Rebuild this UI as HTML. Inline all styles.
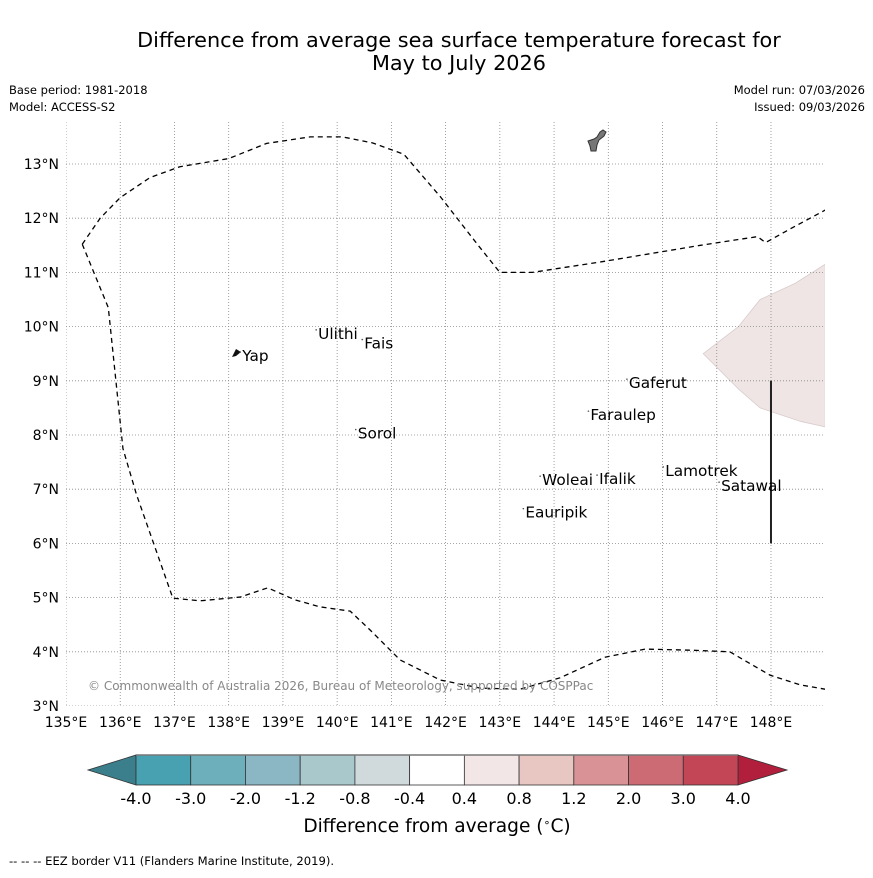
<!DOCTYPE html>
<html><head><meta charset="utf-8">
<style>
body{margin:0;background:#fff;font-family:"Liberation Sans","DejaVu Sans",sans-serif;}
svg text{font-family:"DejaVu Sans","Liberation Sans",sans-serif;}
</style></head>
<body>
<svg id="chart" width="873" height="873" viewBox="0 0 873 873">
<rect width="873" height="873" fill="#fff"/>
<text x="459" y="47" font-size="20.8" text-anchor="middle">Difference from average sea surface temperature forecast for</text>
<text x="459" y="70" font-size="20.8" text-anchor="middle">May to July 2026</text>
<text x="9" y="94" font-size="11.5">Base period: 1981-2018</text>
<text x="9" y="111" font-size="11.5">Model: ACCESS-S2</text>
<text x="865" y="94" font-size="11.5" text-anchor="end">Model run: 07/03/2026</text>
<text x="865" y="111" font-size="11.5" text-anchor="end">Issued: 09/03/2026</text>
<g id="map"></g>
<g id="cbar"></g>
<text x="437" y="832" font-size="18.6" text-anchor="middle">Difference from average (<tspan dy="-6" font-size="11">∘</tspan><tspan dy="6">C)</tspan></text>
<text x="9" y="865" font-size="11.6">--  --  -- EEZ border V11 (Flanders Marine Institute, 2019).</text>
</svg>
<script>
const lonTicks=[135,136,137,138,139,140,141,142,143,144,145,146,147,148];
const latTicks=[3,4,5,6,7,8,9,10,11,12,13];
const islandNames=["Yap","Ulithi","Fais","Sorol","Gaferut","Faraulep","Woleai","Ifalik","Lamotrek","Satawal","Eauripik"];
const islandLon=[138.25,139.65,140.5,140.38,145.38,144.67,143.78,144.83,146.05,147.08,143.47];
const islandLat=[9.42,9.83,9.65,7.99,8.92,8.33,7.13,7.15,7.3,7.02,6.53];
const eezTopLon=[135.3,135.63,136.0,136.55,137.1,138.0,138.7,139.5,140.1,140.65,141.23,141.9,142.6,143.0,143.6,144.9,146.7,147.75,147.9,148.35,149.0];
const eezTopLat=[11.52,12.0,12.38,12.75,12.95,13.1,13.38,13.5,13.5,13.39,13.18,12.4,11.5,11.0,11.0,11.2,11.5,11.66,11.55,11.8,12.15];
const eezLeftLon=[135.3,135.78,136.05,136.3,136.97];
const eezLeftLat=[11.52,10.35,7.75,6.9,4.99];
const eezSouthLon=[136.97,137.47,138.21,138.72,139.22,139.68,140.24,140.61,141.16,141.9,142.64,143.37,144.11,144.94,145.68,146.51,147.24,147.98,148.54,149.0];
const eezSouthLat=[4.99,4.94,5.01,5.18,4.96,4.83,4.75,4.4,3.85,3.48,3.33,3.31,3.52,3.9,4.05,4.03,4.0,3.57,3.39,3.31];
const anomLon=[146.75,147.4,147.8,148.45,149.0,149.0,148.55,147.8,147.4];
const anomLat=[9.5,10.0,10.5,10.8,11.15,8.15,8.25,8.5,8.85];
const cbColors=["#48a1b1","#6db0bc","#8ab7c3","#a9c8cc","#d0d9dc","#ffffff","#f2e6e6","#e8c6c2","#d99397","#cc6b74","#c24655"];
const cbLeftColor="#3a7f8b", cbRightColor="#b21f3c";
const cbLabels=["-4.0","-3.0","-2.0","-1.2","-0.8","-0.4","0.4","0.8","1.2","2.0","3.0","4.0"];

const NS="http://www.w3.org/2000/svg";
const X0=66,XS=54.23,Y0=706,YS=54.2;
const xS=lon=>X0+(lon-135)*XS, yS=lat=>Y0-(lat-3)*YS;
const R=825,T=122,B=706;
function mk(tag,attrs,parent){const e=document.createElementNS(NS,tag);for(const k in attrs)e.setAttribute(k,attrs[k]);parent.appendChild(e);return e;}
const map=document.getElementById('map');
const clip=mk('clipPath',{id:'mc'},map);mk('rect',{x:66,y:T,width:R-66,height:B-T},clip);
const inner=mk('g',{'clip-path':'url(#mc)'},map);
const poly=mk('polygon',{points:anomLon.map((v,i)=>xS(v)+','+yS(anomLat[i])).join(' '),fill:'#f0e5e5',stroke:'#d8cccc','stroke-width':0.8},inner);


lonTicks.forEach(v=>{const l=mk('line',{x1:xS(v),x2:xS(v),y1:T,y2:B,stroke:'#888','stroke-width':0.8,'stroke-dasharray':'1,2'},inner);

});
latTicks.forEach(v=>{const l=mk('line',{x1:66,x2:R,y1:yS(v),y2:yS(v),stroke:'#888','stroke-width':0.8,'stroke-dasharray':'1,2'},inner);

});
function pl(lons,lats,name){const p=mk('polyline',{points:lons.map((v,i)=>xS(v)+','+yS(lats[i])).join(' '),fill:'none',stroke:'#000','stroke-width':1.3,'stroke-dasharray':'5,4'},inner);

}
pl(eezTopLon,eezTopLat,'eez-border-north');
pl(eezLeftLon.concat(eezSouthLon.slice(1)),eezLeftLat.concat(eezSouthLat.slice(1)),'eez-border-west-south');
const vl=mk('line',{x1:xS(148),x2:xS(148),y1:yS(9),y2:yS(6),stroke:'#222','stroke-width':2},inner);


const g=mk('path',{d:'M588,141 L594,139 L597,137 L600,132 L603,130 L606,132 L604,136 L599,140 L597,145 L596,151 L591,151 L590,146 Z',fill:'#777',stroke:'#333','stroke-width':1},inner);


const yp=mk('path',{d:'M232,357 L236,349 L241,352 L236,356 Z',fill:'#111'},inner);


islandNames.forEach((n,i)=>{const x=xS(islandLon[i]),y=yS(islandLat[i]);
const d=mk('circle',{cx:x-2,cy:y-6,r:0.8,fill:'#555'},inner);


const t=mk('text',{x:x,y:y+3,'font-size':15.3},inner);t.textContent=n;

});
const cp=mk('text',{x:88,y:690,'font-size':12,fill:'#888'},inner);cp.textContent='© Commonwealth of Australia 2026, Bureau of Meteorology, supported by COSPPac';


lonTicks.forEach(v=>{const t=mk('text',{x:xS(v),y:727,'font-size':14,'text-anchor':'middle'},map);t.textContent=v+'°E';

});
latTicks.forEach(v=>{const t=mk('text',{x:59,y:yS(v)+5,'font-size':14,'text-anchor':'end'},map);t.textContent=v+'°N';

});
const cb=document.getElementById('cbar');
const cx0=136,cx1=738,cy0=755,cy1=785,w=(cx1-cx0)/cbColors.length;
const lt=mk('polygon',{points:`${cx0},${cy0} 88,770 ${cx0},${cy1}`,fill:cbLeftColor,stroke:'#333','stroke-width':0.8},cb);


const rt=mk('polygon',{points:`${cx1},${cy0} 787,770 ${cx1},${cy1}`,fill:cbRightColor,stroke:'#333','stroke-width':0.8},cb);


cbColors.forEach((c,i)=>{const r=mk('rect',{x:cx0+i*w,y:cy0,width:w,height:cy1-cy0,fill:c,stroke:'#333','stroke-width':0.8},cb);

});
mk('line',{x1:cx0,x2:cx1,y1:cy0,y2:cy0,stroke:'#777','stroke-width':1.5},cb);
cbLabels.forEach((s,i)=>{const t=mk('text',{x:cx0+i*w,y:804,'font-size':16,'text-anchor':'middle'},cb);t.textContent=s;

});
</script>
</body></html>
